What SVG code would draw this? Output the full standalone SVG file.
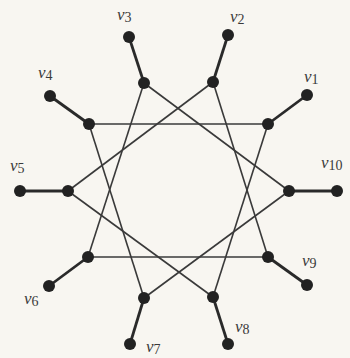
<svg xmlns="http://www.w3.org/2000/svg" width="350" height="358" viewBox="0 0 350 358">
<style>
.bg{fill:#f8f6f1}
.star{stroke:#3a3a3a;stroke-width:1.6;fill:none}
.spoke{stroke:#2a2a2a;stroke-width:2.8;fill:none}
.n{fill:#222}
.lb{font-family:"Liberation Serif",serif;font-size:17px;fill:#3a3a3a}
.sub{font-size:14px}
</style>
<rect class="bg" width="350" height="358"/>
<g id="connectors">
<line class="star" x1="89" y1="124" x2="268" y2="124"/>
<line class="star" x1="88" y1="257" x2="268" y2="257"/>
<line class="star" x1="144" y1="83" x2="289" y2="191"/>
<line class="star" x1="144" y1="83" x2="88" y2="257"/>
<line class="star" x1="213" y1="82" x2="68" y2="191"/>
<line class="star" x1="213" y1="82" x2="268" y2="257"/>
<line class="star" x1="89" y1="124" x2="144" y2="298"/>
<line class="star" x1="68" y1="191" x2="213" y2="297"/>
<line class="star" x1="144" y1="298" x2="289" y2="191"/>
<line class="star" x1="213" y1="297" x2="268" y2="124"/>
<line class="spoke" x1="307" y1="95" x2="268" y2="124"/>
<line class="spoke" x1="228" y1="35" x2="213" y2="82"/>
<line class="spoke" x1="129" y1="37" x2="144" y2="83"/>
<line class="spoke" x1="50" y1="96" x2="89" y2="124"/>
<line class="spoke" x1="20" y1="191" x2="68" y2="191"/>
<line class="spoke" x1="49" y1="286" x2="88" y2="257"/>
<line class="spoke" x1="130" y1="344" x2="144" y2="298"/>
<line class="spoke" x1="228" y1="344" x2="213" y2="297"/>
<line class="spoke" x1="307" y1="285" x2="268" y2="257"/>
<line class="spoke" x1="337" y1="191" x2="289" y2="191"/>
</g>
<g id="v1"><circle class="n" cx="307" cy="95" r="6"/><circle class="n" cx="268" cy="124" r="6"/><text class="lb" x="304" y="82"><tspan font-style="italic">v</tspan><tspan class="sub" dy="2">1</tspan></text></g>
<g id="v2"><circle class="n" cx="228" cy="35" r="6"/><circle class="n" cx="213" cy="82" r="6"/><text class="lb" x="230" y="22"><tspan font-style="italic">v</tspan><tspan class="sub" dy="2">2</tspan></text></g>
<g id="v3"><circle class="n" cx="129" cy="37" r="6"/><circle class="n" cx="144" cy="83" r="6"/><text class="lb" x="117" y="20"><tspan font-style="italic">v</tspan><tspan class="sub" dy="2">3</tspan></text></g>
<g id="v4"><circle class="n" cx="50" cy="96" r="6"/><circle class="n" cx="89" cy="124" r="6"/><text class="lb" x="38" y="78"><tspan font-style="italic">v</tspan><tspan class="sub" dy="2">4</tspan></text></g>
<g id="v5"><circle class="n" cx="20" cy="191" r="6"/><circle class="n" cx="68" cy="191" r="6"/><text class="lb" x="10" y="171"><tspan font-style="italic">v</tspan><tspan class="sub" dy="2">5</tspan></text></g>
<g id="v6"><circle class="n" cx="49" cy="286" r="6"/><circle class="n" cx="88" cy="257" r="6"/><text class="lb" x="24" y="304"><tspan font-style="italic">v</tspan><tspan class="sub" dy="2">6</tspan></text></g>
<g id="v7"><circle class="n" cx="130" cy="344" r="6"/><circle class="n" cx="144" cy="298" r="6"/><text class="lb" x="146" y="352"><tspan font-style="italic">v</tspan><tspan class="sub" dy="2">7</tspan></text></g>
<g id="v8"><circle class="n" cx="228" cy="344" r="6"/><circle class="n" cx="213" cy="297" r="6"/><text class="lb" x="235" y="332"><tspan font-style="italic">v</tspan><tspan class="sub" dy="2">8</tspan></text></g>
<g id="v9"><circle class="n" cx="307" cy="285" r="6"/><circle class="n" cx="268" cy="257" r="6"/><text class="lb" x="302" y="266"><tspan font-style="italic">v</tspan><tspan class="sub" dy="2">9</tspan></text></g>
<g id="v10"><circle class="n" cx="337" cy="191" r="6"/><circle class="n" cx="289" cy="191" r="6"/><text class="lb" x="321" y="168"><tspan font-style="italic">v</tspan><tspan class="sub" dy="2">10</tspan></text></g>
</svg>
